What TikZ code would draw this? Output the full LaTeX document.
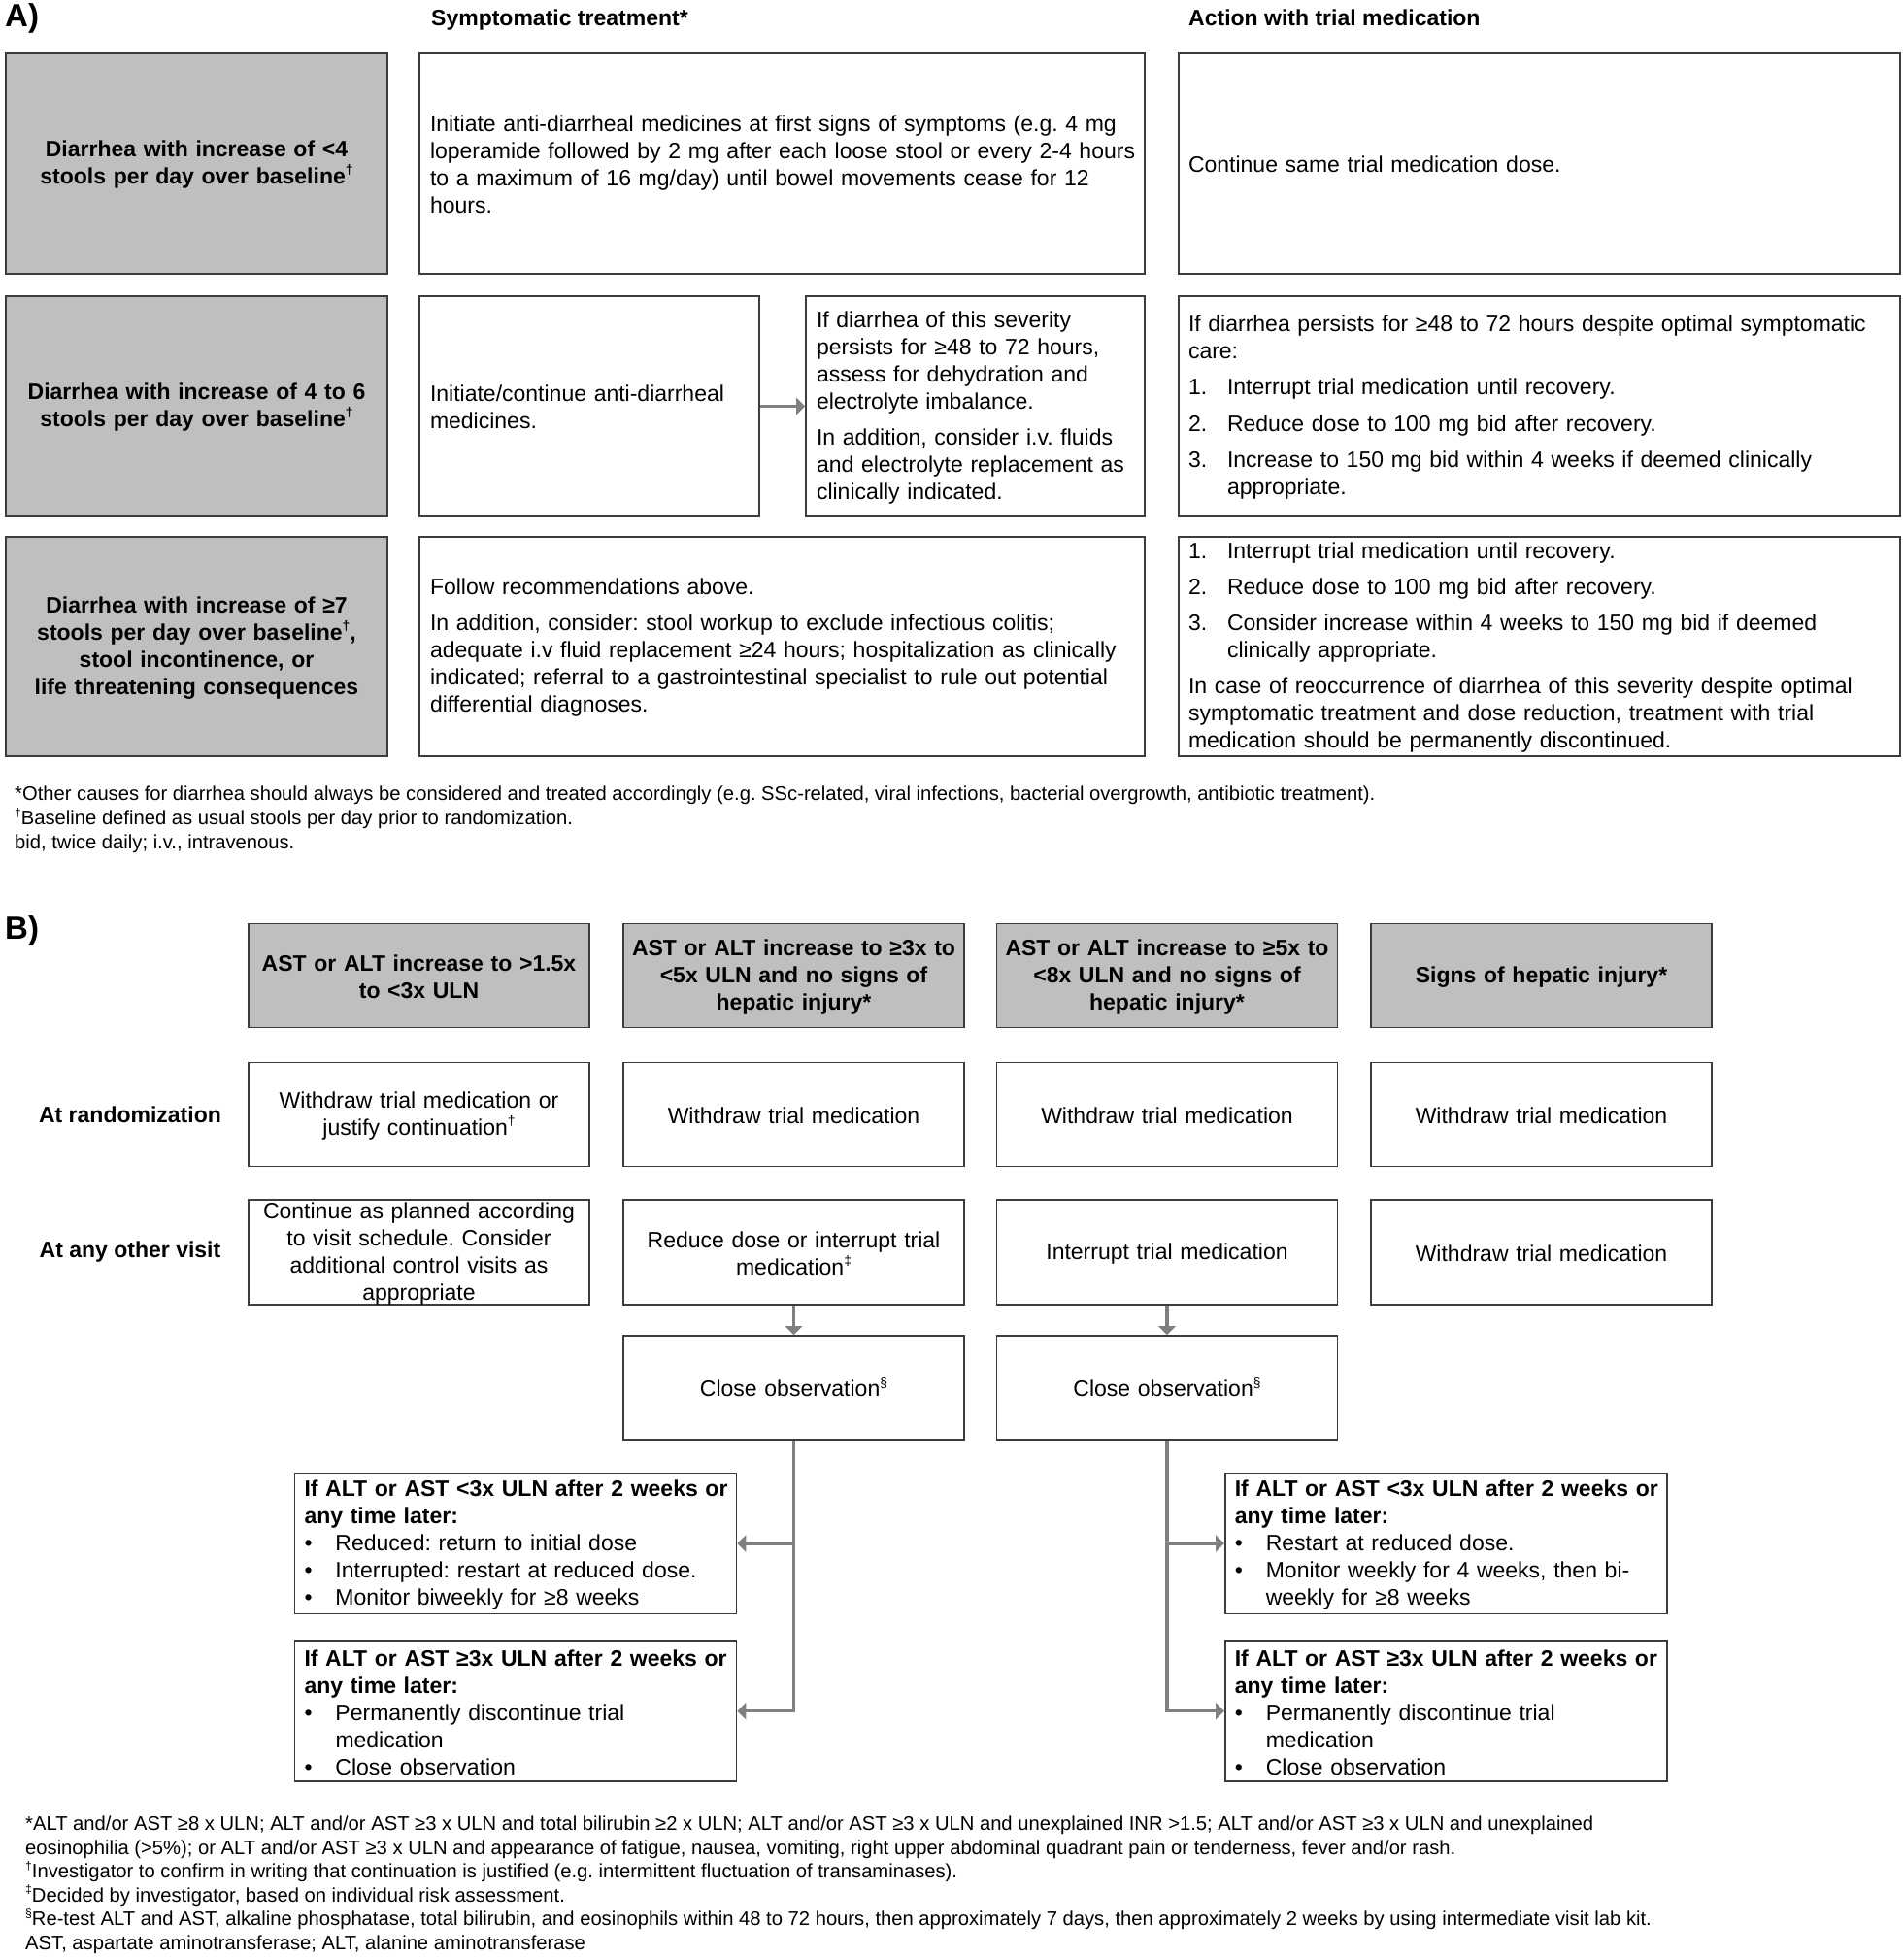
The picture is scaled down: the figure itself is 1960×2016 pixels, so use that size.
\documentclass[tikz,border=0pt]{standalone}
\usepackage{fontspec}
\setmainfont{Liberation Sans}
\usetikzlibrary{arrows.meta}
\definecolor{bordc}{HTML}{3C3C3C}
\definecolor{fillg}{HTML}{BFBFBF}
\definecolor{arrc}{HTML}{7F7F7F}
\frenchspacing
\newcommand{\nm}[1]{\makebox[40pt][l]{#1}}
\newcommand{\bl}[1]{\makebox[32pt][l]{#1}}
\newcommand{\sps}[1]{\raisebox{0.42em}{\scalebox{0.6}{#1}}}
\newcommand{\lsk}[1]{\leftskip=#1pt\relax}
\begin{document}
\begin{tikzpicture}[x=1pt,y=-1pt,
  wh/.style 2 args={minimum width=#1pt, minimum height=#2pt, text width=#1pt},
  box/.style={draw=bordc, line width=1.6pt, inner sep=0pt, text height=19pt, font=\fontsize{23}{28}\selectfont},
  greybox/.style={box, fill=fillg, align=center, font=\bfseries\fontsize{23}{28}\selectfont},
  lbox/.style={box, align=left},
  cbox/.style={box, align=center},
  hdr/.style={anchor=base west, inner sep=0pt, font=\bfseries\fontsize{23}{28}\selectfont},
  big/.style={anchor=west, inner sep=0pt, font=\bfseries\fontsize{33}{38}\selectfont},
  rowlab/.style={inner sep=0pt, font=\bfseries\fontsize{23}{28}\selectfont},
  foot/.style={anchor=base west, inner sep=0pt, font=\fontsize{20.2}{24}\selectfont},
  conn/.style={draw=arrc, line width=3.5pt, -{Triangle[length=9pt,width=17pt]}}
]
\useasboundingbox (0,0) rectangle (1960,2016);

% ---------------- Part A ----------------
\node[big] (labA) at (5,19) {A)};
\node[hdr] (hsym) at (444,26) {Symptomatic treatment*};
\node[hdr] (hact) at (1224,26) {Action with trial medication};

\node[greybox, wh={393}{227}] (g1) at (202.5,168.5)
  {Diarrhea with increase of <4\\stools per day over baseline\sps{†}};
\node[greybox, wh={393}{227}] (g2) at (202.5,418.5)
  {Diarrhea with increase of 4 to 6\\stools per day over baseline\sps{†}};
\node[greybox, wh={393}{226}] (g3) at (202.5,666)
  {Diarrhea with increase of ≥7\\stools per day over baseline\sps{†},\\stool incontinence, or\\life threatening consequences};

\node[lbox, wh={747}{227}] (s1) at (805.5,168.5)
  {\lsk{11}Initiate anti-diarrheal medicines at first signs of symptoms (e.g. 4 mg\\
   loperamide followed by 2 mg after each loose stool or every 2-4 hours\\
   to a maximum of 16 mg/day) until bowel movements cease for 12\\
   hours.\par};
\node[lbox, wh={350}{227}] (s2l) at (607,418.5)
  {\lsk{11}Initiate/continue anti-diarrheal\\medicines.\par};
\node[lbox, wh={349}{227}] (s2r) at (1004.5,418.5)
  {\lsk{11}If diarrhea of this severity\\persists for ≥48 to 72 hours,\\assess for dehydration and\\electrolyte imbalance.\\[9pt]
   In addition, consider i.v. fluids\\and electrolyte replacement as\\clinically indicated.\par};
\node[lbox, wh={747}{226}] (s3) at (805.5,666)
  {\lsk{11}Follow recommendations above.\\[9pt]
   In addition, consider: stool workup to exclude infectious colitis;\\
   adequate i.v fluid replacement ≥24 hours; hospitalization as clinically\\
   indicated; referral to a gastrointestinal specialist to rule out potential\\
   differential diagnoses.\par};

\node[lbox, wh={743}{227}] (a1) at (1585.5,168.5)
  {\lsk{10}Continue same trial medication dose.\par};
\node[lbox, wh={743}{227}] (a2) at (1585.5,418.5)
  {\lsk{10}If diarrhea persists for ≥48 to 72 hours despite optimal symptomatic\\care:\\[9.5pt]
   \nm{1.}Interrupt trial medication until recovery.\\[9.5pt]
   \nm{2.}Reduce dose to 100 mg bid after recovery.\\[9.5pt]
   \nm{3.}Increase to 150 mg bid within 4 weeks if deemed clinically\\
   \hspace*{40pt}appropriate.\par};
\node[lbox, wh={743}{226}] (a3) at (1585.5,666)
  {\lsk{10}\nm{1.}Interrupt trial medication until recovery.\\[9pt]
   \nm{2.}Reduce dose to 100 mg bid after recovery.\\[9pt]
   \nm{3.}Consider increase within 4 weeks to 150 mg bid if deemed\\
   \hspace*{40pt}clinically appropriate.\\[9pt]
   In case of reoccurrence of diarrhea of this severity despite optimal\\
   symptomatic treatment and dose reduction, treatment with trial\\
   medication should be permanently discontinued.\par};

\draw[conn] (s2l.east) -- (s2r.west);

\node[foot] (fa1) at (15,824.5) {*Other causes for diarrhea should always be considered and treated accordingly (e.g. SSc-related, viral infections, bacterial overgrowth, antibiotic treatment).};
\node[foot] (fa2) at (15,849.5) {\sps{†}Baseline defined as usual stools per day prior to randomization.};
\node[foot] (fa3) at (15,874.5) {bid, twice daily; i.v., intravenous.};

% ---------------- Part B ----------------
\node[big] (labB) at (5,959) {B)};

\node[greybox, wh={351}{107}] (h1) at (431.5,1005) {AST or ALT increase to >1.5x\\to <3x ULN};
\node[greybox, wh={351}{107}] (h2) at (817.5,1005) {AST or ALT increase to ≥3x to\\<5x ULN and no signs of\\hepatic injury*};
\node[greybox, wh={351}{107}] (h3) at (1202,1005) {AST or ALT increase to ≥5x to\\<8x ULN and no signs of\\hepatic injury*};
\node[greybox, wh={351}{107}] (h4) at (1587.5,1005) {Signs of hepatic injury*};

\node[rowlab] (lr) at (134,1148) {At randomization};
\node[rowlab] (lv) at (134,1290) {At any other visit};

\node[cbox, wh={351}{107}] (r1) at (431.5,1148) {Withdraw trial medication or\\justify continuation\sps{†}};
\node[cbox, wh={351}{107}] (r2) at (817.5,1148) {Withdraw trial medication};
\node[cbox, wh={351}{107}] (r3) at (1202,1148) {Withdraw trial medication};
\node[cbox, wh={351}{107}] (r4) at (1587.5,1148) {Withdraw trial medication};

\node[cbox, wh={351}{108}] (v1) at (431.5,1290) {Continue as planned according\\to visit schedule. Consider\\additional control visits as\\appropriate};
\node[cbox, wh={351}{108}] (v2) at (817.5,1290) {Reduce dose or interrupt trial\\medication\sps{‡}};
\node[cbox, wh={351}{108}] (v3) at (1202,1290) {Interrupt trial medication};
\node[cbox, wh={351}{108}] (v4) at (1587.5,1290) {Withdraw trial medication};

\node[cbox, wh={351}{107}] (co2) at (817.5,1429.5) {Close observation\sps{§}};
\node[cbox, wh={351}{107}] (co3) at (1202,1429.5) {Close observation\sps{§}};

\node[lbox, wh={455}{145}] (lb1) at (531,1590)
  {\lsk{10}\textbf{If ALT or AST <3x ULN after 2 weeks or}\\\textbf{any time later:}\\
   \bl{•}Reduced: return to initial dose\\
   \bl{•}Interrupted: restart at reduced dose.\\
   \bl{•}Monitor biweekly for ≥8 weeks\par};
\node[lbox, wh={455}{145}] (lb2) at (531,1762.7)
  {\lsk{10}\textbf{If ALT or AST ≥3x ULN after 2 weeks or}\\\textbf{any time later:}\\
   \bl{•}Permanently discontinue trial\\
   \hspace*{32pt}medication\\
   \bl{•}Close observation\par};
\node[lbox, wh={455}{145}] (rb1) at (1489.3,1590)
  {\lsk{10}\textbf{If ALT or AST <3x ULN after 2 weeks or}\\\textbf{any time later:}\\
   \bl{•}Restart at reduced dose.\\
   \bl{•}Monitor weekly for 4 weeks, then bi-\\
   \hspace*{32pt}weekly for ≥8 weeks\par};
\node[lbox, wh={455}{145}] (rb2) at (1489.3,1762.7)
  {\lsk{10}\textbf{If ALT or AST ≥3x ULN after 2 weeks or}\\\textbf{any time later:}\\
   \bl{•}Permanently discontinue trial\\
   \hspace*{32pt}medication\\
   \bl{•}Close observation\par};

\draw[conn] (v2.south) -- (co2.north);
\draw[conn] (v3.south) -- (co3.north);
\draw[conn] (co2.south) |- (lb2.east);
\draw[conn] (co2.south |- lb1.east) -- (lb1.east);
\draw[conn] (co3.south) |- (rb2.west);
\draw[conn] (co3.south |- rb1.west) -- (rb1.west);

\node[foot] (fb1) at (26,1885.5) {*ALT and/or AST ≥8 x ULN; ALT and/or AST ≥3 x ULN and total bilirubin ≥2 x ULN; ALT and/or AST ≥3 x ULN and unexplained INR >1.5; ALT and/or AST ≥3 x ULN and unexplained};
\node[foot] (fb2) at (26,1910) {eosinophilia (>5\%); or ALT and/or AST ≥3 x ULN and appearance of fatigue, nausea, vomiting, right upper abdominal quadrant pain or tenderness, fever and/or rash.};
\node[foot] (fb3) at (26,1934.5) {\sps{†}Investigator to confirm in writing that continuation is justified (e.g. intermittent fluctuation of transaminases).};
\node[foot] (fb4) at (26,1959) {\sps{‡}Decided by investigator, based on individual risk assessment.};
\node[foot] (fb5) at (26,1983.5) {\sps{§}Re-test ALT and AST, alkaline phosphatase, total bilirubin, and eosinophils within 48 to 72 hours, then approximately 7 days, then approximately 2 weeks by using intermediate visit lab kit.};
\node[foot] (fb6) at (26,2008) {AST, aspartate aminotransferase; ALT, alanine aminotransferase};
\end{tikzpicture}
\end{document}
